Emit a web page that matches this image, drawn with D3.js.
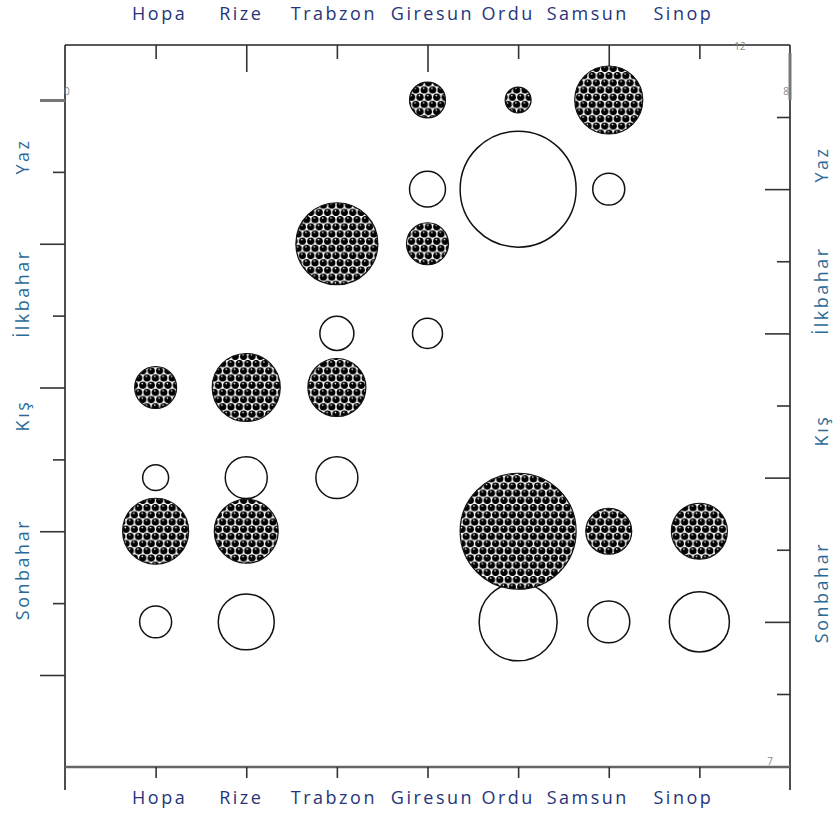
<!DOCTYPE html>
<html>
<head>
<meta charset="utf-8">
<script src="https://cdn.jsdelivr.net/npm/d3@7"></script>
<style>
  body { margin: 0; background: #fff; }
  text { font-family: "Open Sans", "Noto Sans", sans-serif; }
</style>
</head>
<body>
<div id="chart"></div>
<script>
// stations as they appear along the axis
let stations = ['Hopa', 'Rize', 'Trabzon', 'Giresun', 'Ordu', 'Samsun', 'Sinop'];
let seasons  = ['Yaz', 'İlkbahar', 'Kış', 'Sonbahar'];

// patterned (black) bubbles, read against the left axis
let filledValues = [
    [null, null, null, 9.6, 5.0, 34.4, null],     // Yaz
    [null, null, 50.0, 13.1, null, null, null],   // İlkbahar
    [13.1, 34.4, 25.0, null, null, null, null],   // Kış
    [32.4, 30.4, null, null, 100, 15.7, 23.3]     // Sonbahar
];
// open (white) bubbles, read against the right axis
let openValues = [
    [null, null, null, 9.6, 100, 7.6, null],
    [null, null, 8.6, 6.7, null, null, null],
    [5.0, 13.1, 13.1, null, null, null, null],
    [7.6, 23.3, null, null, 45.2, 13.1, 26.8]
];

let leftTicks  = d3.range(9);
let rightTicks = d3.range(9);
let cornerLabels = ['0', '8', '12', '7'];

// hand placed text boxes in the original, so the labels sit a bit off the ticks
let stationNudge = [4, -5, -3, 5, -10, -21, -16];
let seasonNudgeL = [12, 5, -17, -7];
let seasonNudgeR = [20, 2, -2, 16];

let w = 840, h = 819;
let svg = d3.select('#chart').append('svg').attr('width', w).attr('height', h);

let x  = d3.scaleLinear().domain([0, stations.length + 1]).range([65, 790]);
let yL = d3.scaleLinear().domain([0, 8]).range([100, 675]);
let yR = d3.scaleLinear().domain([0, 8]).range([117, 694]);
let r  = d3.scaleSqrt().domain([0, 100]).range([0, 58]);

let topY = 45, botY = 767, leftX = x(0), rightX = x(stations.length + 1);

// ball pattern for the filled bubbles
let pw = 8.4, ph = 14.4;
let pat = svg.append('defs').append('pattern')
    .attr('id', 'balls').attr('patternUnits', 'userSpaceOnUse')
    .attr('width', pw).attr('height', ph);
pat.append('rect').attr('width', pw).attr('height', ph).attr('fill', '#fff');
[[pw / 2, ph / 4], [0, ph * 3 / 4], [pw, ph * 3 / 4], [0, -ph / 4], [pw, -ph / 4], [pw / 2, ph * 5 / 4]].forEach(p => {
    pat.append('circle').attr('cx', p[0]).attr('cy', p[1]).attr('r', 3.65).attr('fill', '#000');
    pat.append('circle').attr('cx', p[0] - 0.6).attr('cy', p[1] - 1.6).attr('r', 0.8).attr('fill', '#fff');
});

// frame
let frame = svg.append('g').attr('stroke', '#222').attr('stroke-width', 1.6);
frame.append('line').attr('x1', leftX).attr('x2', rightX).attr('y1', topY).attr('y2', topY);
frame.append('line').attr('x1', leftX).attr('x2', leftX).attr('y1', topY).attr('y2', botY + 23);
frame.append('line').attr('x1', rightX).attr('x2', rightX).attr('y1', topY).attr('y2', botY + 23);
frame.append('line').attr('x1', rightX).attr('x2', rightX).attr('y1', topY + 8).attr('y2', yL(0))
    .attr('stroke', '#777').attr('stroke-width', 3);
frame.append('line').attr('x1', leftX).attr('x2', rightX).attr('y1', botY).attr('y2', botY)
    .attr('stroke', '#666').attr('stroke-width', 2.4);

function styleAxis(g, longIdx, longSize, vertical) {
    g.select('.domain').remove();
    g.selectAll('text').remove();
    g.selectAll('.tick line').attr('stroke', '#333').attr('stroke-width', 1.6);
    g.selectAll('.tick line').filter((d, i) => longIdx(i)).each(function () {
        if (vertical) d3.select(this).attr('x2', -longSize);
        else d3.select(this).attr('y2', longSize);
    });
}

// top axis: ticks at each station, long at every second one
svg.append('g').attr('transform', 'translate(0,' + topY + ')')
    .call(d3.axisBottom(x).tickValues(d3.range(1, stations.length + 1)).tickSize(14))
    .call(g => styleAxis(g, i => i % 2 == 1, 27, false));

// bottom axis
svg.append('g').attr('transform', 'translate(0,' + botY + ')')
    .call(d3.axisBottom(x).tickValues(d3.range(1, stations.length + 1)).tickSize(11))
    .call(g => styleAxis(g, i => false, 11, false));

// left axis
let leftAxis = svg.append('g').attr('transform', 'translate(' + leftX + ',0)')
    .call(d3.axisLeft(yL).tickValues(leftTicks).tickSize(12))
    .call(g => styleAxis(g, i => i % 2 == 0, 25, true));
leftAxis.select('.tick line').attr('stroke', '#777').attr('stroke-width', 3);

// right axis (ticks point inwards)
svg.append('g').attr('transform', 'translate(' + rightX + ',0)')
    .call(d3.axisLeft(yR).tickValues(rightTicks).tickSize(13))
    .call(g => styleAxis(g, i => i % 2 == 1, 25, true));

// small corner numbers
let small = svg.append('g').attr('font-size', 10).attr('fill', '#888');
small.append('text').attr('x', leftX - 1).attr('y', yL(0) - 5).text(cornerLabels[0]);
small.append('text').attr('x', rightX - 1).attr('y', yL(0) - 5).attr('text-anchor', 'end').text(cornerLabels[1]);
small.append('text').attr('x', rightX - 50).attr('y', topY + 5).attr('text-anchor', 'middle').text(cornerLabels[2]);
small.append('text').attr('x', rightX - 20).attr('y', botY - 2).attr('text-anchor', 'middle').text(cornerLabels[3]);

// station labels top and bottom
[20, 804].forEach(ty => {
    svg.append('g').selectAll('text').data(stations).join('text')
        .attr('x', (d, i) => x(i + 1) + stationNudge[i]).attr('y', ty)
        .attr('text-anchor', 'middle').attr('font-size', 18).attr('letter-spacing', 2.5)
        .attr('fill', '#26357a')
        .text(d => d);
});

// season labels on both sides
let seasonY = i => (yL(2 * i) + yR(2 * i + 1)) / 2;
[[23, seasonNudgeL], [822, seasonNudgeR]].forEach(([tx, nudge]) => {
    svg.append('g').selectAll('text').data(seasons).join('text')
        .attr('transform', (d, i) => 'translate(' + tx + ',' + (seasonY(i) + nudge[i]) + ') rotate(-90)')
        .attr('text-anchor', 'middle').attr('dy', '0.35em')
        .attr('font-size', 18).attr('letter-spacing', 2.5).attr('fill', '#2b6a96')
        .text(d => d);
});

// bubbles
let pts = [];
seasons.forEach((s, si) => {
    stations.forEach((st, ci) => {
        if (openValues[si][ci] != null)
            pts.push({ kind: 'open', x: x(ci + 1), y: yR(2 * si + 1), v: openValues[si][ci] });
        if (filledValues[si][ci] != null)
            pts.push({ kind: 'filled', x: x(ci + 1), y: yL(2 * si), v: filledValues[si][ci] });
    });
});

svg.append('g').selectAll('circle').data(pts).join('circle')
    .attr('cx', d => d.x).attr('cy', d => d.y).attr('r', d => r(d.v))
    .attr('fill', d => d.kind == 'filled' ? 'url(#balls)' : '#fff')
    .attr('stroke', '#111').attr('stroke-width', d => d.kind == 'filled' ? 1.2 : 1.5);
</script>
</body>
</html>
